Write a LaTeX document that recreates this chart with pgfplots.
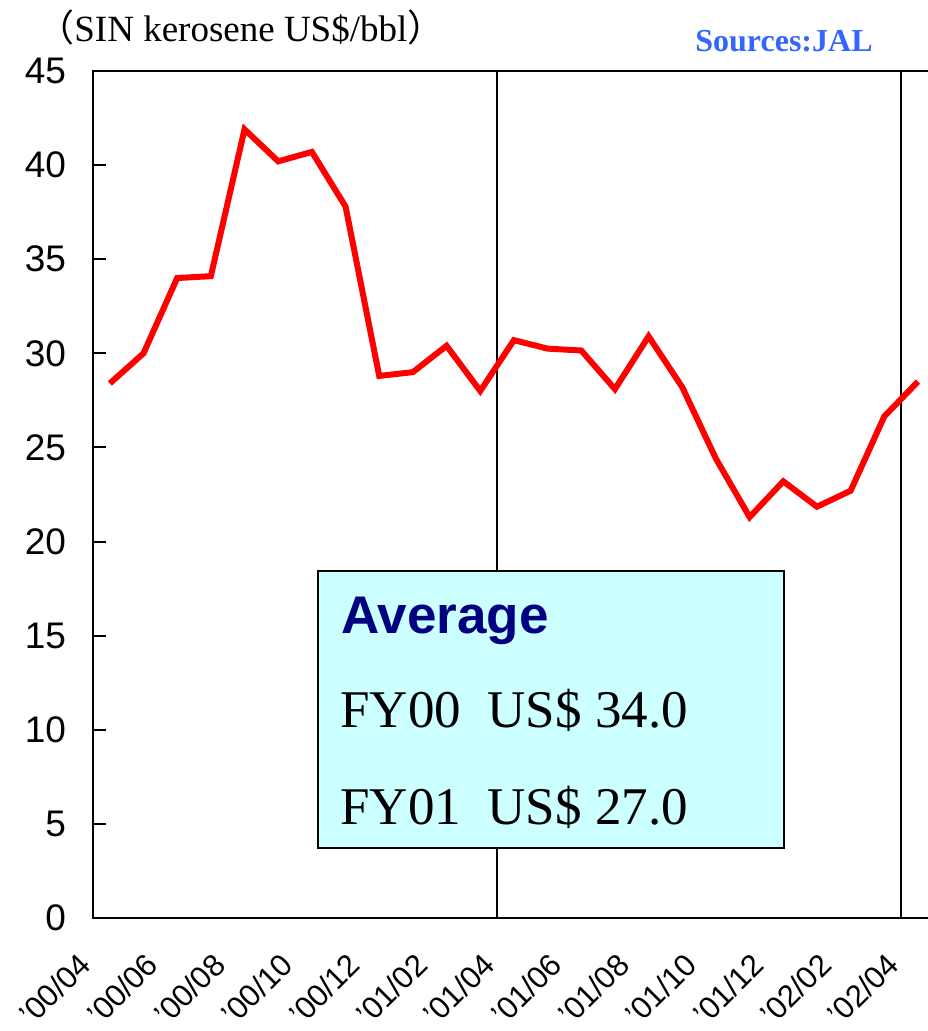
\documentclass[border=0pt]{standalone}
\usepackage{fontspec}
\setmainfont{Liberation Sans}
\newfontfamily\serif{Liberation Serif}
\newfontfamily\cjk{Noto Sans CJK JP}
\usepackage{pgfplots}
\pgfplotsset{compat=1.18}
\definecolor{srcblue}{RGB}{51,102,255}
\definecolor{navyblue}{RGB}{0,0,128}
\definecolor{boxcyan}{RGB}{204,255,255}
\pgfplotstableread{
x y
0.5 28.4
1.5 30.0
2.5 34.0
3.5 34.1
4.5 41.9
5.5 40.2
6.5 40.7
7.5 37.8
8.5 28.8
9.5 29.0
10.5 30.4
11.5 28.0
12.5 30.7
13.5 30.25
14.5 30.15
15.5 28.1
16.5 30.9
17.5 28.2
18.5 24.4
19.5 21.3
20.5 23.2
21.5 21.85
22.5 22.7
23.5 26.65
24.5 28.5
}\datatable
\begin{document}
\begin{tikzpicture}
\useasboundingbox (-46.5pt,-56.5pt) rectangle (417pt,459pt);
\begin{axis}[
  at={(0pt,0pt)}, anchor=south west,
  scale only axis, width=420.9pt, height=423.5pt,
  xmin=0, xmax=25, ymin=0, ymax=45,
  axis line style={line width=1pt},
  ytick={0,5,...,45},
  ytick pos=left,
  tick align=inside,
  major tick length=6.5pt,
  ytick style={line width=1pt, black},
  xtick={0,2,...,24},
  xticklabels={{’00/04},{’00/06},{’00/08},{’00/10},{’00/12},{’01/02},{’01/04},{’01/06},{’01/08},{’01/10},{’01/12},{’02/02},{’02/04}},
  xtick style={draw=none},
  /pgf/number format/assume math mode=true,
  yticklabel style={font=\fontsize{18.5}{20}\selectfont, xshift=-10pt},
  xticklabel style={font=\fontsize{15.5}{17}\selectfont, inner sep=0pt, anchor=east, xshift=-4pt, yshift=-20.5pt, rotate=45},
  clip=false,
]
\draw[line width=0.9pt] (axis cs:12,0) -- (axis cs:12,45);
\draw[line width=0.9pt] (axis cs:24,0) -- (axis cs:24,45);
\addplot[color=red, line width=3pt, mark=none] table[x=x,y=y] {\datatable};
\end{axis}
\draw[fill=boxcyan, line width=0.8pt] (112.5pt,35pt) rectangle (345.5pt,173.5pt);
\node[anchor=base west, inner sep=0pt, text=navyblue, font=\fontsize{26.5}{30}\selectfont\bfseries] at (124pt,142pt) {Average};
\node[anchor=base west, inner sep=0pt, font=\serif\fontsize{26.5}{30}\selectfont] at (123.5pt,95pt) {FY00\ \ US\$ 34.0};
\node[anchor=base west, inner sep=0pt, font=\serif\fontsize{26.5}{30}\selectfont] at (123.5pt,46.5pt) {FY01\ \ US\$ 27.0};
\node[anchor=base west, inner sep=0pt, font=\serif\fontsize{18.5}{20}\selectfont] at (-28pt,438pt) {{\cjk （}SIN kerosene US\$/bbl{\cjk ）}};
\node[anchor=base west, inner sep=0pt, text=srcblue, font=\serif\bfseries\fontsize{16}{18}\selectfont] at (301pt,433pt) {Sources:JAL};
\end{tikzpicture}
\end{document}
